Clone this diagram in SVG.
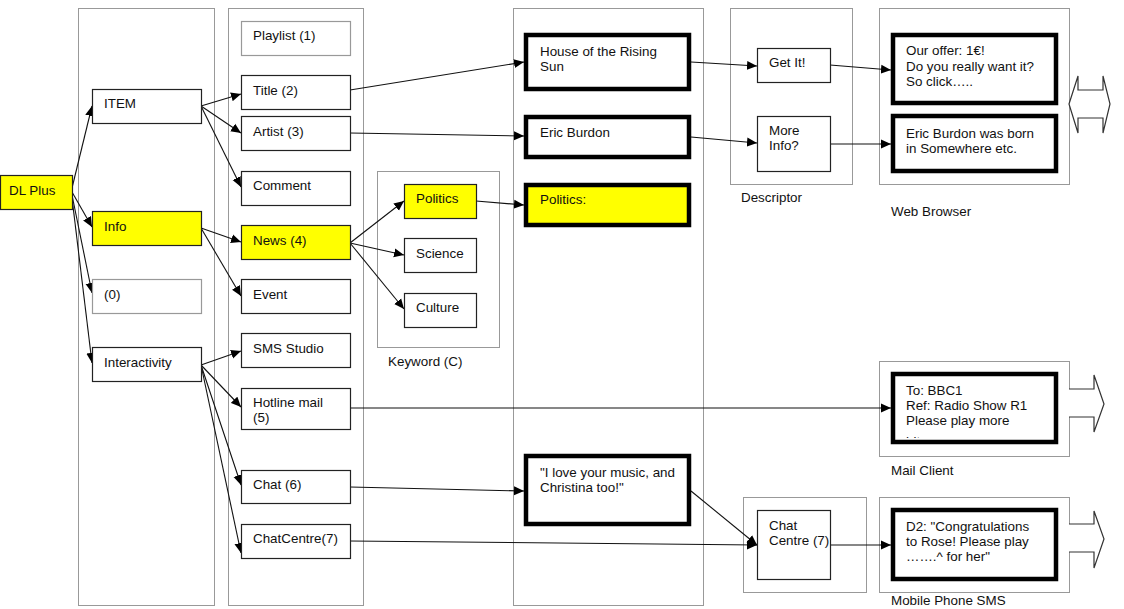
<svg xmlns="http://www.w3.org/2000/svg" width="1124" height="609" viewBox="0 0 1124 609">
<style>
text{font-family:"Liberation Sans",Arial,sans-serif;font-size:13.4px;fill:#111}
.cont{fill:#fff;stroke:#999;stroke-width:1}
.n{fill:#fff;stroke:#222;stroke-width:1.2}
.g{fill:#fff;stroke:#999;stroke-width:1.2}
.y{fill:#ffff00;stroke:#222;stroke-width:1.2}
.t{fill:#fff;stroke:#000;stroke-width:4.5}
.ty{fill:#ffff00;stroke:#000;stroke-width:4.5}
.c{fill:none;stroke:#111;stroke-width:1.1;marker-end:url(#ah)}
.ba{fill:#fff;stroke:#333;stroke-width:1.2}
</style>
<defs>
<marker id="ah" viewBox="0 0 10 10" refX="10" refY="5" markerWidth="10" markerHeight="10" markerUnits="userSpaceOnUse" orient="auto">
<path d="M0,0.5 L10,5 L0,9.5 z" fill="#000"/>
</marker>
<clipPath id="mailclip"><rect x="896" y="376" width="158" height="62"/></clipPath>
</defs>
<rect width="1124" height="609" fill="#fff"/>

<g id="containers">
<rect class="cont" x="78.5" y="8.5" width="136" height="597"/>
<rect class="cont" x="228.5" y="8.5" width="135" height="597"/>
<rect class="cont" x="377.5" y="171.5" width="122" height="176"/>
<rect class="cont" x="513.5" y="8.5" width="190" height="597"/>
<rect class="cont" x="730.5" y="8.5" width="122" height="176"/>
<rect class="cont" x="879.5" y="8.5" width="190" height="176"/>
<rect class="cont" x="879.5" y="361.5" width="190" height="95"/>
<rect class="cont" x="743.5" y="497.5" width="123" height="95"/>
<rect class="cont" x="879.5" y="497.5" width="190" height="95"/>
</g>

<g id="labels">
<text x="388" y="366">Keyword (C)</text>
<text x="741" y="202">Descriptor</text>
<text x="891" y="216">Web Browser</text>
<text x="891" y="475">Mail Client</text>
<text x="891" y="605">Mobile Phone SMS</text>
</g>

<g id="connectors">
<path class="c" d="M72,188 L92,106"/>
<path class="c" d="M72,192 L92,227"/>
<path class="c" d="M72,195 L92,293"/>
<path class="c" d="M72,198 L92,363"/>
<path class="c" d="M201,106 L241,94"/>
<path class="c" d="M201,106 L241,133"/>
<path class="c" d="M201,106 L241,187"/>
<path class="c" d="M201,228 L241,242"/>
<path class="c" d="M201,228 L241,296"/>
<path class="c" d="M350,243 L404,201"/>
<path class="c" d="M350,243 L404,255"/>
<path class="c" d="M350,243 L404,309"/>
<path class="c" d="M201,365 L241,351"/>
<path class="c" d="M201,365 L241,407"/>
<path class="c" d="M201,365 L241,485"/>
<path class="c" d="M201,365 L241,553"/>
<path class="c" d="M350,90 L524,62"/>
<path class="c" d="M350,133 L524,136"/>
<path class="c" d="M476,201 L524,205"/>
<path class="c" d="M691,62 L757,66"/>
<path class="c" d="M691,137 L757,143"/>
<path class="c" d="M830,65 L891,70"/>
<path class="c" d="M830,144 L891,144"/>
<path class="c" d="M350,408 L891,408"/>
<path class="c" d="M350,487 L524,491"/>
<path class="c" d="M350,541 L757,545"/>
<path class="c" d="M691,491 L757,545"/>
<path class="c" d="M830,545 L891,545"/>
</g>

<g id="n-dlplus"><rect class="y" x="0.5" y="175.5" width="72" height="34"/><text x="9" y="195">DL Plus</text></g>
<g id="n-item"><rect class="n" x="92.5" y="89.5" width="109" height="34"/><text x="104" y="108">ITEM</text></g>
<g id="n-info"><rect class="y" x="92.5" y="211.5" width="109" height="34"/><text x="104" y="231">Info</text></g>
<g id="n-zero"><rect class="g" x="92.5" y="279.5" width="109" height="34"/><text x="104" y="299">(0)</text></g>
<g id="n-interactivity"><rect class="n" x="92.5" y="347.5" width="109" height="34"/><text x="104" y="367">Interactivity</text></g>

<g id="n-playlist"><rect class="g" x="241.5" y="21.5" width="109" height="34"/><text x="253" y="40">Playlist (1)</text></g>
<g id="n-title"><rect class="n" x="241.5" y="75.5" width="109" height="34"/><text x="253" y="95">Title (2)</text></g>
<g id="n-artist"><rect class="n" x="241.5" y="116.5" width="109" height="34"/><text x="253" y="136">Artist (3)</text></g>
<g id="n-comment"><rect class="n" x="241.5" y="171.5" width="109" height="34"/><text x="253" y="190">Comment</text></g>
<g id="n-news"><rect class="y" x="241.5" y="225.5" width="109" height="34"/><text x="253" y="245">News (4)</text></g>
<g id="n-event"><rect class="n" x="241.5" y="279.5" width="109" height="34"/><text x="253" y="299">Event</text></g>
<g id="n-sms"><rect class="n" x="241.5" y="333.5" width="109" height="34"/><text x="253" y="353">SMS Studio</text></g>
<g id="n-hotline"><rect class="n" x="241.5" y="388.5" width="109" height="41"/><text x="253" y="407">Hotline mail</text><text x="253" y="422">(5)</text></g>
<g id="n-chat"><rect class="n" x="241.5" y="470.5" width="109" height="33"/><text x="253" y="489">Chat (6)</text></g>
<g id="n-chatcentre"><rect class="n" x="241.5" y="524.5" width="109" height="34"/><text x="253" y="543">ChatCentre(7)</text></g>

<g id="n-kw-politics"><rect class="y" x="404.5" y="184.5" width="72" height="34"/><text x="416" y="203">Politics</text></g>
<g id="n-kw-science"><rect class="n" x="404.5" y="238.5" width="72" height="34"/><text x="416" y="258">Science</text></g>
<g id="n-kw-culture"><rect class="n" x="404.5" y="293.5" width="72" height="34"/><text x="416" y="312">Culture</text></g>

<g id="n-house"><rect class="t" x="526" y="35" width="163" height="54"/><text x="540" y="56">House of the Rising</text><text x="540" y="71">Sun</text></g>
<g id="n-eric"><rect class="t" x="526" y="117" width="163" height="40"/><text x="540" y="137">Eric Burdon</text></g>
<g id="n-politics"><rect class="ty" x="526" y="185" width="163" height="40"/><text x="540" y="204">Politics:</text></g>
<g id="n-ilove"><rect class="t" x="526" y="456" width="163" height="68"/><text x="540" y="477">"I love your music, and</text><text x="540" y="492">Christina too!"</text></g>

<g id="n-getit"><rect class="n" x="757.5" y="48.5" width="73" height="34"/><text x="769" y="67">Get It!</text></g>
<g id="n-moreinfo"><rect class="n" x="757.5" y="116.5" width="73" height="55"/><text x="769" y="135">More</text><text x="769" y="150">Info?</text></g>
<g id="n-chatcentre2"><rect class="n" x="757.5" y="510.5" width="73" height="69"/><text x="769" y="530">Chat</text><text x="769" y="545">Centre (7)</text></g>

<g id="n-offer"><rect class="t" x="893" y="35" width="163" height="68"/><text x="906" y="55">Our offer: 1€!</text><text x="906" y="71">Do you really want it?</text><text x="906" y="86">So click…..</text></g>
<g id="n-born"><rect class="t" x="893" y="116" width="163" height="55"/><text x="906" y="138">Eric Burdon was born</text><text x="906" y="153">in Somewhere etc.</text></g>
<g id="n-mail"><rect class="t" x="893" y="374" width="163" height="68"/><g clip-path="url(#mailclip)"><text x="906" y="395">To: BBC1</text><text x="906" y="410">Ref: Radio Show R1</text><text x="906" y="425">Please play more</text><text x="906" y="446">hits</text></g></g>
<g id="n-d2"><rect class="t" x="893" y="510" width="163" height="69"/><text x="906" y="531">D2: "Congratulations</text><text x="906" y="546">to Rose! Please play</text><text x="906" y="561">…….^ for her"</text></g>

<g id="block-arrows">
<path class="ba" d="M1069,104 L1078,76 L1078,90 L1103,90 L1103,76 L1110,104 L1103,133 L1103,118 L1078,118 L1078,133 Z"/>
<path class="ba" d="M1069,389 L1094,389 L1094,375 L1104,404 L1094,432 L1094,417 L1069,417"/>
<path class="ba" d="M1069,524 L1094,524 L1094,511 L1104,539 L1094,568 L1094,552 L1069,552"/>
</g>
</svg>
